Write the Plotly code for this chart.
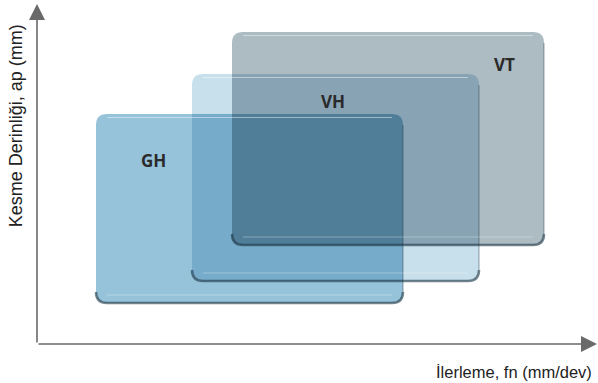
import plotly.graph_objects as go

# regions of the chart (fn = feed, ap = depth of cut), arbitrary units
names = ["GH", "VH", "VT"]
fn_min = [0.59, 1.55, 1.95]
fn_max = [3.66, 4.42, 5.07]
ap_min = [0.41, 0.63, 0.99]
ap_max = [2.30, 2.70, 3.12]
colors = [(150, 195, 218), (200, 224, 236), (173, 187, 194)]
label_fn = [1.16, 2.96, 4.67]
label_ap = [1.84, 2.43, 2.80]

X_MAX = 5.6
Y_MAX = 3.4
R = 0.11  # corner radius


def rounded_path(x0, x1, y0, y1, rounded):
    # rounded = [bl, br, tr, tl]
    bl, br, tr, tl = [R if r else 0 for r in rounded]
    p = f"M {x0},{y0 + bl} "
    if bl:
        p += f"Q {x0},{y0} {x0 + bl},{y0} "
    p += f"L {x1 - br},{y0} "
    if br:
        p += f"Q {x1},{y0} {x1},{y0 + br} "
    p += f"L {x1},{y1 - tr} "
    if tr:
        p += f"Q {x1},{y1} {x1 - tr},{y1} "
    p += f"L {x0 + tl},{y1} "
    if tl:
        p += f"Q {x0},{y1} {x0},{y1 - tl} "
    return p + "Z"


def multiply(idx):
    c = [255.0, 255.0, 255.0]
    for i in idx:
        c = [a * b / 255 for a, b in zip(c, colors[i])]
    return "rgb(%d,%d,%d)" % tuple(round(v) for v in c)


boxes = list(range(len(names)))
subsets = [(i,) for i in boxes]
subsets += [(i, j) for i in boxes for j in boxes if i < j]
subsets.append(tuple(boxes))

shapes = []
for s in subsets:
    x0 = max(fn_min[i] for i in s)
    x1 = min(fn_max[i] for i in s)
    y0 = max(ap_min[i] for i in s)
    y1 = min(ap_max[i] for i in s)
    if x0 >= x1 or y0 >= y1:
        continue

    def is_corner(cx, cy, xs, ys):
        return any(abs(xs[i] - cx) < 1e-9 and abs(ys[i] - cy) < 1e-9 for i in s)

    rounded = [
        is_corner(x0, y0, fn_min, ap_min),
        is_corner(x1, y0, fn_max, ap_min),
        is_corner(x1, y1, fn_max, ap_max),
        is_corner(x0, y1, fn_min, ap_max),
    ]
    shapes.append(dict(type="path", path=rounded_path(x0, x1, y0, y1, rounded),
                       xref="x", yref="y", fillcolor=multiply(s), line_width=0,
                       layer="below"))

# edge shading of each box
for i in boxes:
    x0, x1, y0, y1 = fn_min[i], fn_max[i], ap_min[i], ap_max[i]
    shapes.append(dict(type="line", x0=x1, x1=x1, y0=y0 + R, y1=y1 - R,
                       xref="x", yref="y",
                       line=dict(color="rgba(25,50,65,0.3)", width=1.5)))
    bottom = (f"M {x0},{y0 + R} Q {x0},{y0} {x0 + R},{y0} L {x1 - R},{y0} "
              f"Q {x1},{y0} {x1},{y0 + R}")
    shapes.append(dict(type="path", path=bottom, xref="x", yref="y",
                       fillcolor="rgba(0,0,0,0)",
                       line=dict(color="rgba(25,50,65,0.6)", width=2.5)))
    shapes.append(dict(type="line", x0=x0 + R, x1=x1 - R, y0=y1 - 0.035, y1=y1 - 0.035,
                       xref="x", yref="y",
                       line=dict(color="rgba(255,255,255,0.45)", width=1)))
    shapes.append(dict(type="line", x0=x0 + R, x1=x1 - R, y0=y0 + 0.08, y1=y0 + 0.08,
                       xref="x", yref="y",
                       line=dict(color="rgba(255,255,255,0.3)", width=1)))

fig = go.Figure()

annotations = []
for n, fx, ay in zip(names, label_fn, label_ap):
    annotations.append(dict(x=fx, y=ay, text=f"<b>{n}</b>", showarrow=False,
                            font=dict(family="Open Sans", size=17, color="#2a2a2a")))

# axes with arrows
for tip_x, tip_y in [(X_MAX, 0), (0, Y_MAX)]:
    annotations.append(dict(x=tip_x, y=tip_y, ax=0, ay=0, axref="x", ayref="y", text="",
                            showarrow=True, arrowhead=2, arrowsize=2, arrowwidth=1.6,
                            arrowcolor="#6a6a6a"))

annotations.append(dict(x=0.9946, y=-0.082, xref="paper", yref="paper", xanchor="right",
                        yanchor="middle", text="İlerleme, fn (mm/dev)", showarrow=False,
                        font=dict(family="Liberation Sans", size=16.5, color="#222")))
annotations.append(dict(x=-0.036, y=0.643, xref="paper", yref="paper",
                        xanchor="center", yanchor="middle", textangle=-90,
                        text="Kesme Derinliği, ap (mm)", showarrow=False,
                        font=dict(family="Liberation Sans", size=18, color="#222")))

fig.update_layout(
    width=598, height=383,
    margin=dict(l=37, r=1, t=4, b=39),
    paper_bgcolor="white", plot_bgcolor="white",
    shapes=shapes, annotations=annotations,
    showlegend=False,
    xaxis=dict(range=[0, X_MAX], visible=False, fixedrange=True),
    yaxis=dict(range=[0, Y_MAX], visible=False, fixedrange=True),
)

fig.write_html("out.html", config={"displayModeBar": False},
               post_script="document.body.style.margin='0';")
